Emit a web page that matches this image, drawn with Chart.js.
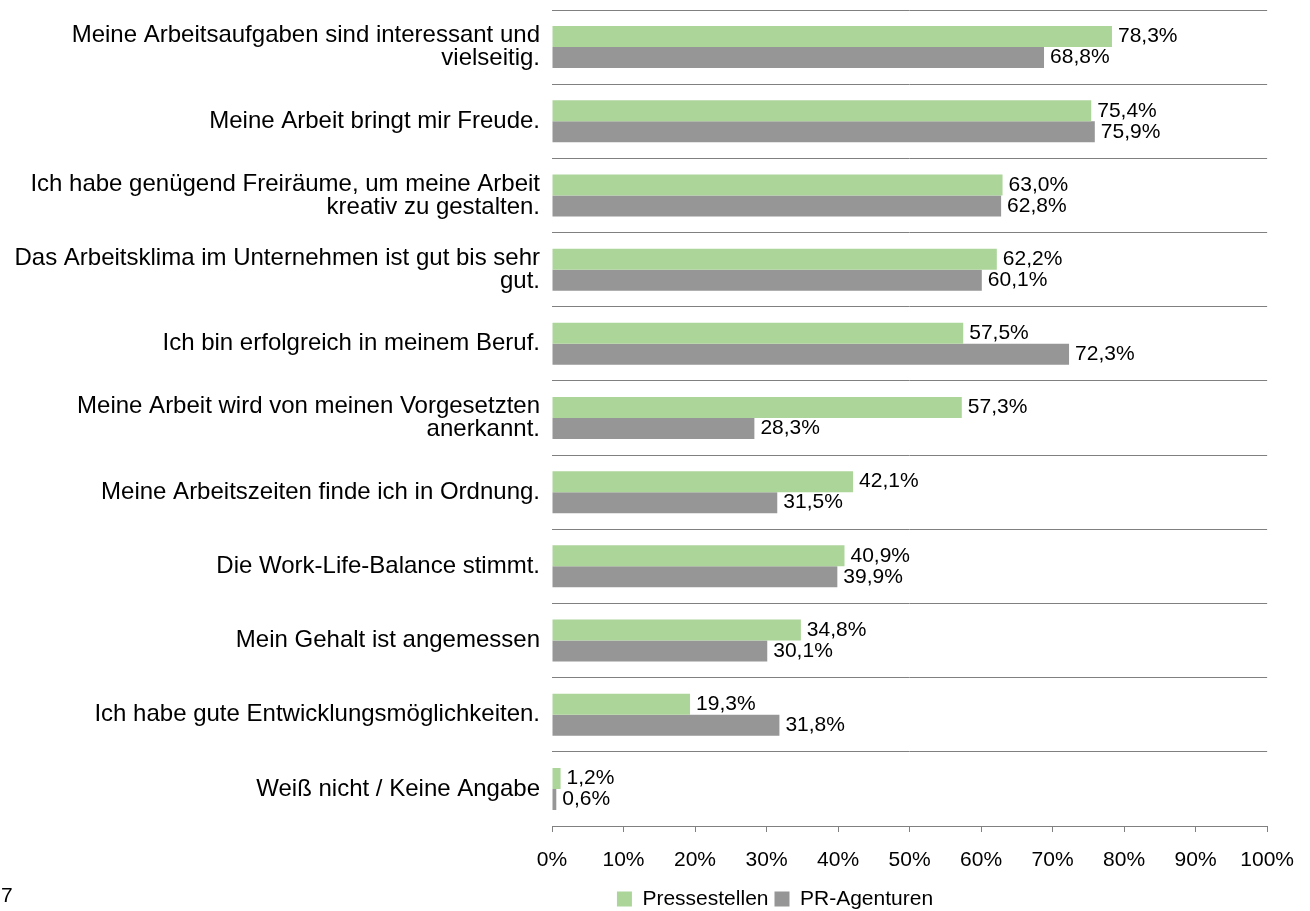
<!DOCTYPE html>
<html>
<head>
<meta charset="utf-8">
<script src="https://cdn.jsdelivr.net/npm/chart.js@4.4.1/dist/chart.umd.min.js"></script>
<style>
    body { margin: 0; background: #ffffff; }
    #wrap { position: relative; width: 1310px; height: 911px; }
    #page-no { position: absolute; left: 1px; top: 883px; font: 21px Arial, "Liberation Sans", sans-serif; color: #000; }
</style>
</head>
<body>
<div id="wrap">
    <canvas id="chart"></canvas>
    <div id="page-no">7</div>
</div>
<script>
const FONT = 'Arial, "Liberation Sans", sans-serif';

// Statements (categories), wrapped like the original
const categories = [
    ['Meine Arbeitsaufgaben sind interessant und', 'vielseitig.'],
    'Meine Arbeit bringt mir Freude.',
    ['Ich habe genügend Freiräume, um meine Arbeit', 'kreativ zu gestalten.'],
    ['Das Arbeitsklima im Unternehmen ist gut bis sehr', 'gut.'],
    'Ich bin erfolgreich in meinem Beruf.',
    ['Meine Arbeit wird von meinen Vorgesetzten', 'anerkannt.'],
    'Meine Arbeitszeiten finde ich in Ordnung.',
    'Die Work-Life-Balance stimmt.',
    'Mein Gehalt ist angemessen',
    'Ich habe gute Entwicklungsmöglichkeiten.',
    'Weiß nicht / Keine Angabe'
];

const seriesNames = ['Pressestellen', 'PR-Agenturen'];
const pressestellen = [78.3, 75.4, 63.0, 62.2, 57.5, 57.3, 42.1, 40.9, 34.8, 19.3, 1.2];
const agenturen = [68.8, 75.9, 62.8, 60.1, 72.3, 28.3, 31.5, 39.9, 30.1, 31.8, 0.6];

const xTicks = [0, 10, 20, 30, 40, 50, 60, 70, 80, 90, 100];

function fmtPct(v) {
    return v.toFixed(1).replace('.', ',') + '%';
}

// value labels at the end of each bar
const barValueLabels = {
    id: 'barValueLabels',
    afterDatasetsDraw(chart) {
        const ctx = chart.ctx;
        ctx.save();
        ctx.font = '21px ' + FONT;
        ctx.fillStyle = '#000000';
        ctx.textAlign = 'left';
        ctx.textBaseline = 'middle';
        chart.data.datasets.forEach((ds, i) => {
            const meta = chart.getDatasetMeta(i);
            meta.data.forEach((bar, idx) => {
                ctx.fillText(fmtPct(ds.data[idx]), bar.x + 6, bar.y);
            });
        });
        ctx.restore();
    }
};

// the legend in the original sits right of the page centre
const legendShift = {
    id: 'legendShift',
    afterLayout(chart) {
        chart.legend.left += 141;
        chart.legend.right += 141;
    }
};

new Chart(document.getElementById('chart'), {
    type: 'bar',
    data: {
        labels: categories,
        datasets: [
            {
                label: seriesNames[0],
                data: pressestellen,
                backgroundColor: '#acd59a',
                categoryPercentage: 0.566,
                barPercentage: 1.0
            },
            {
                label: seriesNames[1],
                data: agenturen,
                backgroundColor: '#969696',
                categoryPercentage: 0.566,
                barPercentage: 1.0
            }
        ]
    },
    options: {
        indexAxis: 'y',
        responsive: true,
        maintainAspectRatio: false,
        animation: false,
        layout: { padding: { top: 10, right: 42, bottom: 0, left: 0 } },
        scales: {
            x: {
                min: 0,
                max: 100,
                afterBuildTicks: scale => { scale.ticks = xTicks.map(v => ({ value: v })); },
                afterFit: scale => { scale.height = 56.5; },
                grid: { drawOnChartArea: false, drawTicks: true, tickLength: 6, color: '#808080' },
                border: { display: true, color: '#808080' },
                ticks: {
                    color: '#000000',
                    font: { family: FONT, size: 21 },
                    padding: 16,
                    maxRotation: 0,
                    callback: v => v + '%'
                }
            },
            y: {
                afterFit: scale => {
                    scale.width = 552;
                    scale.paddingTop = 0;
                    scale.paddingBottom = 0;
                },
                grid: { offset: true, drawTicks: false, color: '#808080' },
                border: { display: false },
                ticks: {
                    color: '#000000',
                    font: { family: FONT, size: 24, lineHeight: 0.96 },
                    padding: 12,
                    autoSkip: false
                }
            }
        },
        plugins: {
            legend: {
                position: 'bottom',
                maxHeight: 28.5,
                labels: {
                    boxWidth: 15,
                    boxHeight: 15,
                    padding: 6,
                    color: '#000000',
                    font: { family: FONT, size: 21 }
                }
            },
            tooltip: { enabled: false }
        }
    },
    plugins: [barValueLabels, legendShift]
});
</script>
</body>
</html>
